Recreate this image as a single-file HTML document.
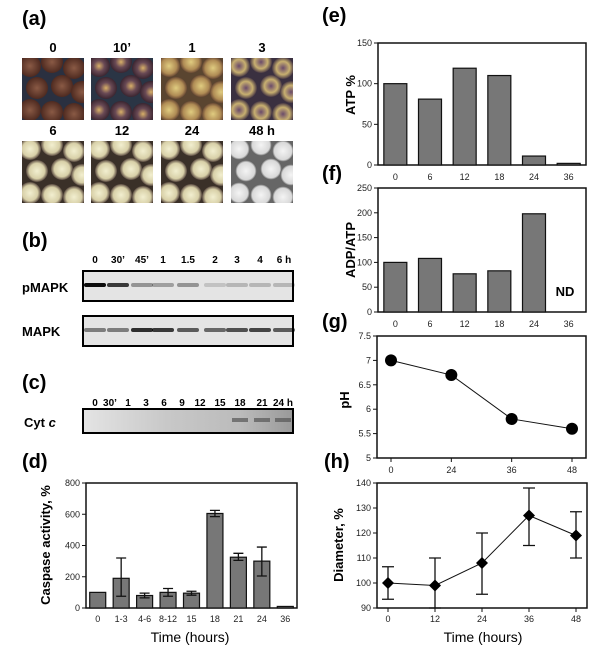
<!DOCTYPE html>
<html><head><meta charset="utf-8">
<style>
html,body{margin:0;padding:0;background:#fff;}
svg{display:block;font-family:"Liberation Sans",Arial,sans-serif;}
.pl{font-size:20px;font-weight:bold;}
.tk{font-size:9px;fill:#222;}
.ax{font-size:13px;font-weight:bold;}
.ln{font-size:11px;font-weight:bold;}
</style></head>
<body>
<svg id="fig" width="600" height="651" viewBox="0 0 600 651" xmlns="http://www.w3.org/2000/svg">
<defs>
<radialGradient id="gBrown"><stop offset="0" stop-color="#8a5a45"/><stop offset="1" stop-color="#4e2a20"/></radialGradient>
<radialGradient id="gPurple"><stop offset="0" stop-color="#d8b068"/><stop offset="0.5" stop-color="#6a4a55"/><stop offset="1" stop-color="#3a2530"/></radialGradient>
<radialGradient id="gYellow"><stop offset="0" stop-color="#e0cc80"/><stop offset="0.7" stop-color="#b08c55"/><stop offset="1" stop-color="#6a4a35"/></radialGradient>
<radialGradient id="gMix"><stop offset="0" stop-color="#6a4a6a"/><stop offset="0.6" stop-color="#c8b070"/><stop offset="1" stop-color="#4a3a45"/></radialGradient>
<radialGradient id="gWhite"><stop offset="0" stop-color="#f2efd0"/><stop offset="0.7" stop-color="#d8d0a8"/><stop offset="1" stop-color="#5a4a40"/></radialGradient>
<radialGradient id="gGray"><stop offset="0" stop-color="#f4f4f4"/><stop offset="0.8" stop-color="#d8d8d8"/><stop offset="1" stop-color="#555"/></radialGradient>
<linearGradient id="cytg" x1="0" x2="1"><stop offset="0" stop-color="#e4e4e4"/><stop offset="0.4" stop-color="#c8c8c8"/><stop offset="0.75" stop-color="#bbb"/><stop offset="1" stop-color="#999"/></linearGradient>
</defs>

<!-- (a) -->
<text class="pl" x="22" y="25">(a)</text>
<g id="photos"></g>

<!-- (b) -->
<text class="pl" x="22" y="247">(b)</text>
<g id="blotB"></g>
<text class="ax" x="22" y="292">pMAPK</text>
<text class="ax" x="22" y="336">MAPK</text>

<!-- (c) -->
<text class="pl" x="22" y="389">(c)</text>
<g id="blotC"></g>
<text class="ax" x="24" y="427">Cyt <tspan font-style="italic">c</tspan></text>

<!-- (d) -->
<text class="pl" x="22" y="468">(d)</text>
<g id="chartD"></g>

<text class="pl" x="322" y="22">(e)</text>
<g id="chartE"></g>
<text class="pl" x="322" y="180">(f)</text>
<g id="chartF"></g>
<text class="pl" x="322" y="328">(g)</text>
<g id="chartG"></g>
<text class="pl" x="324" y="468">(h)</text>
<g id="chartH"></g>
</svg>
<script>
// ---- data ----
const dCats = ["0","1-3","4-6","8-12","15","18","21","24","36"];
const dVals = [100,190,80,100,95,605,325,300,10];
const dLo = [null,75,65,75,82,585,305,205,null];
const dHi = [null,320,95,125,107,625,350,390,null];
const dTicks = [0,200,400,600,800];

const eCats = ["0","6","12","18","24","36"];
const eVals = [100,81,119,110,11,2];
const eTicks = [0,50,100,150];

const fCats = ["0","6","12","18","24","36"];
const fVals = [100,108,77,83,198,null];
const fTicks = [0,50,100,150,200,250];

const gCats = ["0","24","36","48"];
const gVals = [7,6.7,5.8,5.6];
const gTicks = [5,5.5,6,6.5,7,7.5];

const hCats = ["0","12","24","36","48"];
const hVals = [100,99,108,127,119];
const hLo = [93.5,88,95.5,115,110];
const hHi = [106.5,110,120,138,128.5];
const hTicks = [90,100,110,120,130,140];

const NS="http://www.w3.org/2000/svg";
function mk(parent,tag,attrs,txt){const e=document.createElementNS(NS,tag);for(const k in attrs)e.setAttribute(k,attrs[k]);if(txt!==undefined)e.textContent=txt;parent.appendChild(e);return e;}

function frame(g,x0,x1,y0,y1,ticks,vmin,vmax,fmt){
  const ys=v=>y1-(v-vmin)/(vmax-vmin)*(y1-y0);
  const r=mk(g,'rect',{x:x0,y:y0,width:x1-x0,height:y1-y0,fill:'none',stroke:'#111','stroke-width':1.5});
  
  
  ticks.forEach(t=>{
    mk(g,'line',{x1:x0-4,x2:x0,y1:ys(t),y2:ys(t),stroke:'#111'});
    const tx=mk(g,'text',{class:'tk',x:x0-6,y:ys(t)+3,'text-anchor':'end'},fmt?fmt(t):t);
    
    
  });
  return ys;
}

function barChart(id,cats,vals,ticks,x0,x1,y0,y1,bw,lo,hi,xlabY){
  const g=document.getElementById(id);
  const vmax=ticks[ticks.length-1];
  const ys=frame(g,x0,x1,y0,y1,ticks,0,vmax);
  const step=(x1-x0)/cats.length;
  const xs=i=>x0+step*(i+0.5);
  cats.forEach((c,i)=>{
    const v=vals[i];
    if(v!==null){
      const b=mk(g,'rect',{x:xs(i)-bw/2,y:ys(v),width:bw,height:y1-ys(v),fill:'#777',stroke:'#111','stroke-width':1.2});
      
      
    }
    if(lo&&lo[i]!==null){
      const e=mk(g,'path',{d:`M${xs(i)},${ys(lo[i])}V${ys(hi[i])}M${xs(i)-5},${ys(lo[i])}h10M${xs(i)-5},${ys(hi[i])}h10`,stroke:'#111','stroke-width':1.3,fill:'none'});
      
      
    }
    const t=mk(g,'text',{class:'tk',x:xs(i),y:xlabY,'text-anchor':'middle'},c);
    
    
  });
  return {xs,ys};
}

// (d)
(function(){
  barChart('chartD',dCats,dVals,dTicks,86,297,483,608,16,dLo,dHi,622);
  const g=document.getElementById('chartD');
  const yl=mk(g,'text',{class:'ax',x:0,y:0,'text-anchor':'middle',transform:'translate(50,545) rotate(-90)','font-size':'11'},'Caspase activity, %');
  
  
  const xl=mk(g,'text',{x:190,y:642,'text-anchor':'middle','font-size':'14'},'Time (hours)');
  
  
})();

// (e)
(function(){
  barChart('chartE',eCats,eVals,eTicks,378,586,43,165,23,null,null,180);
  const g=document.getElementById('chartE');
  const yl=mk(g,'text',{class:'ax',x:0,y:0,'text-anchor':'middle',transform:'translate(355,95) rotate(-90)','font-size':'14'},'ATP %');
  
  
})();

// (f)
(function(){
  barChart('chartF',fCats,fVals,fTicks,378,586,188,312,23,null,null,327);
  const g=document.getElementById('chartF');
  const yl=mk(g,'text',{class:'ax',x:0,y:0,'text-anchor':'middle',transform:'translate(355,250) rotate(-90)','font-size':'14'},'ADP/ATP');
  
  
  const nd=mk(g,'text',{class:'ax',x:565,y:296,'text-anchor':'middle','font-size':'14'},'ND');
  
  
})();

function lineChart(id,cats,vals,ticks,x0,x1,y0,y1,pad,xlabY,marker,lo,hi,fmt){
  const g=document.getElementById(id);
  const ys=frame(g,x0,x1,y0,y1,ticks,ticks[0],ticks[ticks.length-1],fmt);
  const step=(x1-x0-2*pad)/(cats.length-1);
  const xs=i=>x0+pad+step*i;
  if(lo){cats.forEach((c,i)=>{
    const ylo=Math.min(ys(lo[i]),y1);
    const e=mk(g,'path',{d:`M${xs(i)},${ylo}V${ys(hi[i])}M${xs(i)-6},${ylo}h12M${xs(i)-6},${ys(hi[i])}h12`,stroke:'#111','stroke-width':1.3,fill:'none'});
    
    
  });}
  const l=mk(g,'polyline',{points:vals.map((v,i)=>xs(i)+','+ys(v)).join(' '),fill:'none',stroke:'#111','stroke-width':1});
  
  
  cats.forEach((c,i)=>{
    let m;
    if(marker==='circle') m=mk(g,'circle',{cx:xs(i),cy:ys(vals[i]),r:6,fill:'#000'});
    else { const x=xs(i),y=ys(vals[i]); m=mk(g,'path',{d:`M${x},${y-6}L${x+6},${y}L${x},${y+6}L${x-6},${y}Z`,fill:'#000'}); }
    
    
    mk(g,'line',{x1:xs(i),x2:xs(i),y1:y1,y2:y1+4,stroke:'#111'});
    const t=mk(g,'text',{class:'tk',x:xs(i),y:xlabY,'text-anchor':'middle'},c);
    
    
  });
}

// (g)
(function(){
  lineChart('chartG',gCats,gVals,gTicks,377,586,336,458,14,473,'circle');
  const g=document.getElementById('chartG');
  const yl=mk(g,'text',{class:'ax',x:0,y:0,'text-anchor':'middle',transform:'translate(349,400) rotate(-90)','font-size':'17'},'pH');
  
  
})();

// (h)
(function(){
  lineChart('chartH',hCats,hVals,hTicks,377,587,483,608,11,622,'diamond',hLo,hHi);
  const g=document.getElementById('chartH');
  const yl=mk(g,'text',{class:'ax',x:0,y:0,'text-anchor':'middle',transform:'translate(343,545) rotate(-90)','font-size':'12'},'Diameter, %');
  
  
  const xl=mk(g,'text',{x:483,y:642,'text-anchor':'middle','font-size':'14'},'Time (hours)');
  
  
})();

// (a) photos
(function(){
  const g=document.getElementById('photos');
  const labels=["0","10’","1","3","6","12","24","48 h"];
  const grads=["gBrown","gPurple","gYellow","gMix","gWhite","gWhite","gWhite","gGray"];
  const bgs=["#2a3040","#2a3545","#5a4530","#3a3040","#3a3028","#3a3028","#3a3028","#666"];
  const cols=[22,91,161,231], rows=[58,141], w=62,h=62;
  labels.forEach((lb,i)=>{
    const x=cols[i%4], y=rows[Math.floor(i/4)];
    const t=mk(g,'text',{x:x+w/2,y:y-6,'text-anchor':'middle','font-size':'13','font-weight':'bold'},lb);
    
    
    const cg=mk(g,'g',{});
    
    
    const cp='clip'+i;
    const cl=mk(cg,'clipPath',{id:cp}); mk(cl,'rect',{x:x,y:y,width:w,height:h});
    const inner=mk(cg,'g',{'clip-path':'url(#'+cp+')'});
    mk(inner,'rect',{x:x,y:y,width:w,height:h,fill:bgs[i]});
    const pts=[[8,8],[30,4],[52,10],[15,30],[40,28],[60,34],[8,52],[30,54],[52,56]];
    pts.forEach(p=>mk(inner,'circle',{cx:x+p[0],cy:y+p[1],r:11,fill:'url(#'+grads[i]+')'}));
  });
})();

// (b) blots
(function(){
  const g=document.getElementById('blotB');
  const lanes=["0","30’","45’","1","1.5","2","3","4","6 h"];
  const lx=[95,118,142,163,188,215,237,260,284];
  const pInt=[0.95,0.75,0.35,0.3,0.35,0.15,0.2,0.2,0.2];
  const mInt=[0.45,0.45,0.8,0.75,0.6,0.55,0.65,0.7,0.6];
  lanes.forEach((l,i)=>{
    const t=mk(g,'text',{x:lx[i],y:263,'text-anchor':'middle','font-size':'10','font-weight':'bold'},l);
    
    
  });
  [[271,pInt,'pmapk'],[316,mInt,'mapk']].forEach(([y,ints,nm])=>{
    const r=mk(g,'rect',{x:83,y:y,width:210,height:30,fill:'#e4e4e4',stroke:'#000','stroke-width':2});
    
    
    ints.forEach((v,i)=>{
      const b=mk(g,'rect',{x:lx[i]-11,y:y+12,width:22,height:4,rx:2,fill:'#000',opacity:v});
      
      
    });
  });
  const gc=document.getElementById('blotC');
  const cl=["0","30’","1","3","6","9","12","15","18","21","24 h"];
  const cx=[95,110,128,146,164,182,200,220,240,262,283];
  cl.forEach((l,i)=>{
    const t=mk(gc,'text',{x:cx[i],y:406,'text-anchor':'middle','font-size':'10','font-weight':'bold'},l);
    
    
  });
  const r=mk(gc,'rect',{x:83,y:409,width:210,height:24,fill:'url(#cytg)',stroke:'#000','stroke-width':2});
  
  
  [240,262,283].forEach(x=>{const b=mk(gc,'rect',{x:x-8,y:418,width:16,height:4,fill:'#555',opacity:0.7});
    
    });
})();
</script>
</body></html>
